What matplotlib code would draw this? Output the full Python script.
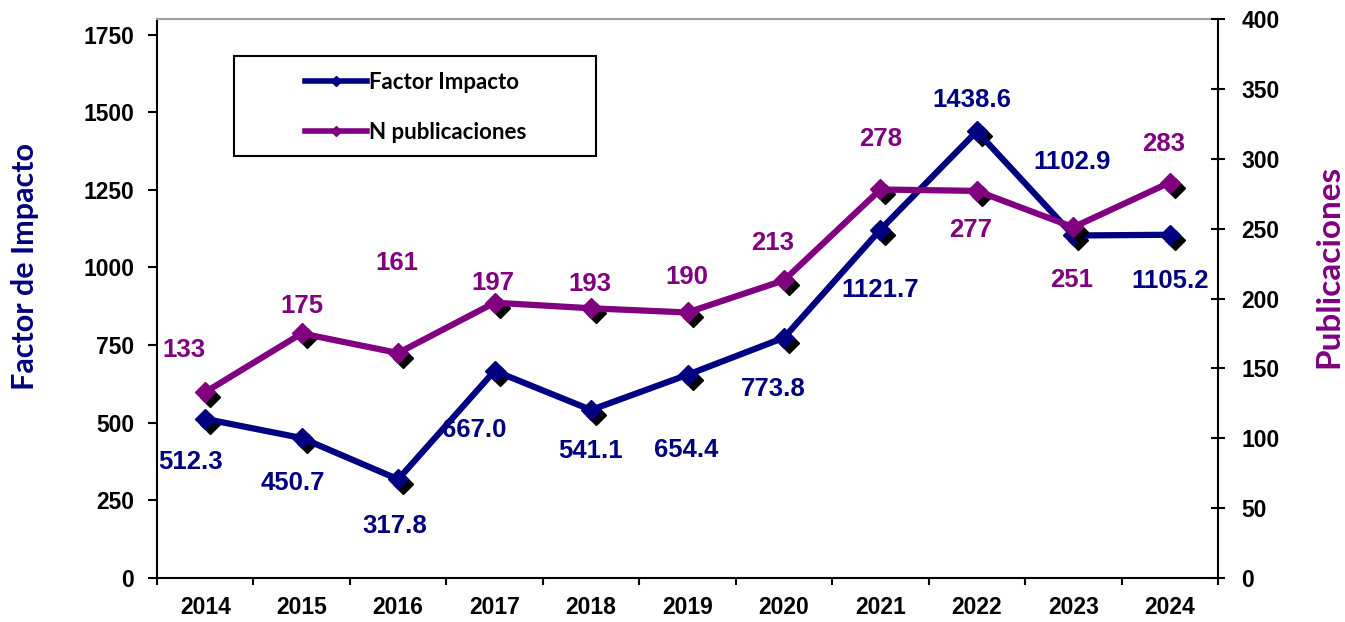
import numpy as np
import matplotlib
matplotlib.use('Agg')
import matplotlib.pyplot as plt
from matplotlib import transforms
from matplotlib.lines import Line2D
from matplotlib.patches import Rectangle

years = ['2014', '2015', '2016', '2017', '2018', '2019', '2020', '2021', '2022', '2023', '2024']
factor_impacto = [512.3, 450.7, 317.8, 667.0, 541.1, 654.4, 773.8, 1121.7, 1438.6, 1102.9, 1105.2]
publicaciones = [133, 175, 161, 197, 193, 190, 213, 278, 277, 251, 283]

# label offsets in pixels (dx, dy; dy positive = down)
fi_off = [(-15, 43), (-9, 45), (-3, 47), (-20, 59), (-1, 41), (-1, 75),
          (-11, 51), (0, 60), (-5, -31), (-1, -73), (0, 46)]
pub_off = [(-21, -42), (0, -27), (-1, -90), (-2, -20), (-1, -24), (-1, -35),
           (-11, -37), (0, -50), (-6, 39), (-2, 53), (-6, -39)]

navy = '#000080'
purple = '#800080'
arial = 'Liberation Sans'
calibri = 'Lato'

fig = plt.figure(figsize=(13.45, 6.22), dpi=100)
ax = fig.add_axes([157/1345, 44/622, 1061/1345, 559/622])
ax2 = ax.twinx()

x = np.arange(len(years))

# shadows
sh1 = transforms.offset_copy(ax.transData, fig=fig, x=5, y=-5, units='dots')
sh2 = transforms.offset_copy(ax2.transData, fig=fig, x=5, y=-5, units='dots')
ax.plot(x, factor_impacto, ls='none', marker='D', ms=10, color='black', transform=sh1, zorder=2)
ax.plot(x, factor_impacto, color=navy, lw=4.5, marker='D', ms=10, zorder=3)
ax2.plot(x, publicaciones, ls='none', marker='D', ms=10, color='black', transform=sh2, zorder=2)
ax2.plot(x, publicaciones, color=purple, lw=4.5, marker='D', ms=10, zorder=3)

for i, v in enumerate(factor_impacto):
    dx, dy = fi_off[i]
    ax.annotate(f'{v:.1f}', (x[i], v), xytext=(dx, -dy), textcoords='offset pixels',
                ha='center', va='center', fontsize=18.5, fontweight='bold',
                family=arial, color=navy, zorder=5)
for i, v in enumerate(publicaciones):
    dx, dy = pub_off[i]
    ax2.annotate(str(v), (x[i], v), xytext=(dx, -dy), textcoords='offset pixels',
                 ha='center', va='center', fontsize=18.5, fontweight='bold',
                 family=arial, color=purple, zorder=5)

ax.set_xlim(-0.5, len(years) - 0.5)
ax.set_ylim(0, 1800)
ax2.set_ylim(0, 400)
ax.set_yticks(np.arange(0, 1751, 250))
ax2.set_yticks(np.arange(0, 401, 50))

ax.set_xticks(np.arange(-0.5, len(years), 1))
ax.set_xticklabels([])
ax.set_xticks(x, minor=True)
ax.set_xticklabels(years, minor=True)
ax.tick_params(axis='x', which='major', direction='out', length=5, width=1.5)
ax.tick_params(axis='x', which='minor', length=0, pad=13)
ax.tick_params(axis='y', direction='out', length=6.5, width=1.5, pad=10)
ax2.tick_params(axis='y', direction='inout', length=9.4, width=1.5, pad=12)

for lab in ax.get_xticklabels(minor=True) + ax.get_yticklabels() + ax2.get_yticklabels():
    lab.set_fontfamily(arial)
    lab.set_fontweight('bold')
    lab.set_fontsize(16.5)

for s in ['left', 'bottom']:
    ax.spines[s].set_linewidth(1.5)
ax.spines['right'].set_visible(False)
ax.spines['top'].set_color('#a0a0a0')
ax.spines['top'].set_linewidth(1.5)
for s in ['left', 'bottom', 'top']:
    ax2.spines[s].set_visible(False)
ax2.spines['right'].set_linewidth(1.5)

ax.set_ylabel('Factor de Impacto', fontsize=22, fontweight='bold', family=calibri, color=navy)
ax.yaxis.label.set_va('center')
ax.yaxis.set_label_coords(-0.124, 0.557)
ax2.set_ylabel('Publicaciones', fontsize=24, fontweight='bold', family=calibri, color=purple)
ax2.yaxis.label.set_va('center')
ax2.yaxis.set_label_coords(1.1046, 0.558)

handles = [Line2D([], [], color=navy, lw=4, marker='D', ms=5),
           Line2D([], [], color=purple, lw=4, marker='D', ms=5)]
ax2.legend(handles, ['Factor Impacto', 'N publicaciones'], loc='upper left',
           bbox_to_anchor=(305/1345, 1 - 72/622), bbox_transform=fig.transFigure,
           frameon=False, borderpad=0, borderaxespad=0, handlelength=2.8,
           handletextpad=0.1, labelspacing=1.3,
           prop={'family': calibri, 'weight': 'bold', 'size': 16})
fig.add_artist(Rectangle((234/1345, 1 - 156/622), 362/1345, 100/622,
                         transform=fig.transFigure, fill=False, ec='black', lw=1.5))

fig.savefig('out.png', dpi=100)
